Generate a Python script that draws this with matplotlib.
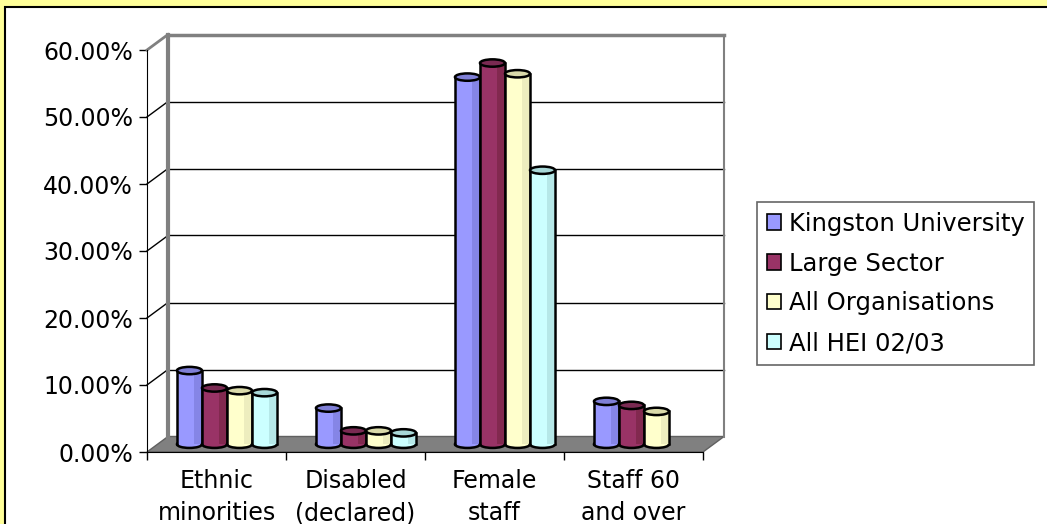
import numpy as np
import matplotlib
matplotlib.use("Agg")
import matplotlib.pyplot as plt
from matplotlib.patches import Rectangle, Ellipse, Polygon, Patch

# datos (porcentajes)
categorias = ["Ethnic\nminorities", "Disabled\n(declared)", "Female\nstaff", "Staff 60\nand over"]
series = ["Kingston University", "Large Sector", "All Organisations", "All HEI 02/03"]
kingston = [11.0, 5.4, 54.8, 6.4]
large_sector = [8.4, 2.0, 56.9, 5.8]
all_orgs = [8.0, 2.0, 55.3, 4.9]
all_hei = [7.7, 1.7, 40.9, np.nan]
yticks = [0, 10, 20, 30, 40, 50, 60]

valores = [kingston, large_sector, all_orgs, all_hei]
colores = ["#9999FF", "#993366", "#FFFFCC", "#CCFFFF"]
franjas = ["#8585E6", "#82294F", "#EDEDBE", "#B6E8E8"]
tapas = ["#7F7FD6", "#7A2A52", "#DADAAA", "#A8D8D8"]

plt.rcParams['font.family'] = ['DejaVu Sans']
fs = 17

fig = plt.figure(figsize=(10.47, 5.24), dpi=100)
fig.patch.set_facecolor("#FFFF99")
fig.patches.append(Rectangle((5/1047, -0.1), 1.2, 1 - 7/524 + 0.1, transform=fig.transFigure,
                             facecolor="white", edgecolor="black", lw=1.5, zorder=-5))

ax = fig.add_axes([147/1047, (524-452)/524, 556/1047, 402/524])
ax.set_facecolor("none")
ax.set_xlim(0, 4)
ax.set_ylim(0, 60)

dx = 21/139   # profundidad en x (unidades de categoria)
dy = 15.5/6.7  # profundidad en y (%)
gris = "#808080"

# pared izquierda, pared del fondo y suelo
ax.add_patch(Polygon([(0, 0), (dx, dy), (dx, 60+dy), (0, 60)], closed=True,
                     facecolor="white", edgecolor="none", clip_on=False, zorder=1))
ax.add_patch(Rectangle((dx, dy), 4, 60, facecolor="white", edgecolor="none", clip_on=False, zorder=1))
ax.add_patch(Polygon([(0, 0), (4, 0), (4+dx, dy), (dx, dy)], closed=True,
                     facecolor=gris, edgecolor="#606060", lw=1, clip_on=False, zorder=2))
for y in yticks[1:-1]:
    ax.plot([dx, 4+dx], [y+dy, y+dy], color="black", lw=1, clip_on=False, zorder=2)
    ax.plot([0, dx], [y, y+dy], color="black", lw=1, clip_on=False, zorder=2)
ax.plot([dx, dx], [dy, 60+dy], color=gris, lw=3, clip_on=False, zorder=2)
ax.plot([dx, 4+dx], [60+dy, 60+dy], color=gris, lw=2.5, clip_on=False, zorder=2)
ax.plot([4+dx, 4+dx], [dy, 60+dy], color=gris, lw=1.5, clip_on=False, zorder=2)
ax.plot([0, dx], [60, 60+dy], color=gris, lw=2, clip_on=False, zorder=2)

# cilindros
w = 0.18
eh = 1.1
base = dy/2
for s in range(4):
    for i in range(4):
        v = valores[s][i]
        if np.isnan(v):
            continue
        x0 = i + 0.5 + dx/2 - 2*w + s*w
        top = v + base
        z = 3 + i*0.1 + s*0.01
        ax.add_patch(Ellipse((x0 + w/2, base), w, eh, facecolor=colores[s], edgecolor="black",
                             lw=1.8, clip_on=False, zorder=z))
        ax.add_patch(Rectangle((x0, base), w, v, facecolor=colores[s], edgecolor="none",
                               clip_on=False, zorder=z))
        ax.add_patch(Rectangle((x0 + 0.68*w, base), 0.27*w, v, facecolor=franjas[s], edgecolor="none",
                               clip_on=False, zorder=z))
        ax.plot([x0, x0], [base, top], color="black", lw=1.8, clip_on=False, zorder=z)
        ax.plot([x0 + w, x0 + w], [base, top], color="black", lw=1.8, clip_on=False, zorder=z)
        ax.add_patch(Ellipse((x0 + w/2, top), w, eh, facecolor=tapas[s], edgecolor="black",
                             lw=1.8, clip_on=False, zorder=z))

# ejes
for lado in ["top", "right"]:
    ax.spines[lado].set_visible(False)
ax.spines["left"].set_color("black")
ax.spines["bottom"].set_color("black")
ax.spines["left"].set_zorder(5)
ax.spines["bottom"].set_zorder(5)
ax.set_yticks(yticks)
ax.set_yticklabels(["%.2f%%" % y for y in yticks], fontsize=fs)
ax.tick_params(axis="y", direction="out", length=6, width=1, pad=4)
ax.set_xticks([0, 1, 2, 3, 4])
ax.set_xticklabels([])
ax.tick_params(axis="x", which="major", direction="out", length=6, width=1)
ax.set_xticks([0.5, 1.5, 2.5, 3.5], minor=True)
ax.set_xticklabels(categorias, minor=True, fontsize=fs, linespacing=1.45)
ax.tick_params(axis="x", which="minor", length=0, pad=12)

handles = [Patch(facecolor=c, edgecolor="black", lw=1.2) for c in colores]
leg = fig.legend(handles, series, loc="upper left", bbox_to_anchor=(757/1047, 1 - 202/524),
                 fontsize=fs + 0.5, frameon=True, fancybox=False, borderaxespad=0,
                 handlelength=0.6, handleheight=0.6, handletextpad=0.3,
                 labelspacing=0.65, borderpad=0.4)
leg.get_frame().set_edgecolor("#404040")
leg.get_frame().set_linewidth(1.2)

fig.savefig("out.png", dpi=100, facecolor=fig.get_facecolor())
